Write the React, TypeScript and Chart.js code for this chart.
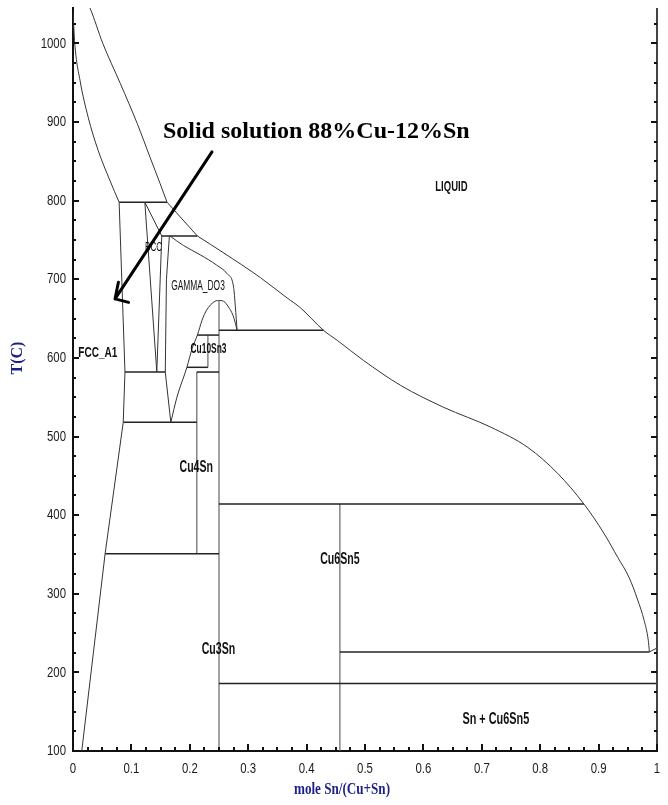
import React, { useEffect, useRef } from "react";
import { Chart, registerables } from "chart.js";

Chart.register(...registerables);

type P = [number, number];

// ---- axis ranges / ticks ----
const xRange: P = [0, 1];
const yRange: P = [100, 1045];
const xStep = 0.1;
const yStep = 100;
const xMinorStep = 0.025;
const yMinorStep = 25;

// ---- phase boundary curves (mole fraction Sn, T in C) ----
const liquidusCu: P[] = [[0, 1084], [0.029, 1045], [0.051, 1000], [0.081, 949], [0.110, 898], [0.132, 855], [0.149, 822], [0.161, 798]];
const liquidusBeta: P[] = [[0.161, 798], [0.213, 755]];
const liquidusMain: P[] = [[0.213, 755], [0.257, 734], [0.321, 702], [0.367, 676], [0.389, 664], [0.429, 635], [0.453, 622], [0.497, 597], [0.561, 565], [0.635, 537], [0.715, 512], [0.779, 486], [0.830, 453], [0.875, 414], [0.909, 377], [0.933, 346], [0.952, 321], [0.967, 292], [0.978, 266], [0.985, 241], [0.987, 226]];
const liquidusSn: P[] = [[0.987, 226], [1.0, 231]];
const fccSolidus: P[] = [[0, 1040], [0.003, 1000], [0.012, 953], [0.026, 906], [0.043, 864], [0.063, 826], [0.079, 798]];
const fccSolvus: P[] = [[0.079, 798], [0.089, 582], [0.086, 518], [0.055, 351], [0.015, 100]];
const bccLeft: P[] = [[0.123, 798], [0.1435, 582]];
const bccTop: P[] = [[0.123, 798], [0.152, 755]];
const bccRight: P[] = [[0.152, 755], [0.1435, 582]];
const gammaLeft: P[] = [[0.165, 755], [0.160, 700], [0.158, 582], [0.1675, 518]];
const gammaSolidus: P[] = [[0.166, 755], [0.189, 743], [0.218, 731], [0.246, 718], [0.264, 707], [0.275, 690], [0.278, 665], [0.281, 635]];
const gammaDome: P[] = [[0.1675, 518], [0.178, 550], [0.195, 588], [0.204, 612], [0.213, 629], [0.221, 648], [0.229, 661], [0.241, 671], [0.249, 673], [0.258, 672], [0.266, 665], [0.274, 654], [0.278, 644], [0.281, 635]];

// ---- invariant (horizontal) lines: [T, xFrom, xTo] ----
const isotherms: [number, number, number][] = [
  [798, 0.079, 0.161],
  [755, 0.152, 0.213],
  [635, 0.25, 0.429],
  [629, 0.213, 0.25],
  [588, 0.195, 0.231],
  [582, 0.089, 0.158],
  [582, 0.212, 0.25],
  [518, 0.086, 0.212],
  [414, 0.25, 0.875],
  [351, 0.055, 0.25],
  [226, 0.457, 0.987],
  [186, 0.25, 1.0],
];

// ---- compound (vertical) lines: [x, TFrom, TTo] ----
const compounds: [number, number, number][] = [
  [0.231, 588, 629],
  [0.212, 351, 582],
  [0.25, 100, 673],
  [0.457, 100, 414],
];

// ---- phase labels ----
const phaseNames = ["LIQUID", "FCC_A1", "BCC", "GAMMA_DO3", "Cu10Sn3", "Cu4Sn", "Cu6Sn5", "Cu3Sn", "Sn + Cu6Sn5"];
const phaseAt: P[] = [[0.648, 817], [0.0425, 607], [0.138, 741], [0.214, 692], [0.232, 611], [0.211, 460], [0.457, 343], [0.249, 229], [0.724, 140]];

// ---- annotation ----
const noteText = "Solid solution 88%Cu-12%Sn";
const noteAt: P = [0.154, 880];
const arrowFrom: P = [0.238, 862];
const arrowTo: P = [0.072, 675];

const xTitle = "mole Sn/(Cu+Sn)";
const yTitle = "T(C)";

const sans = "'Liberation Sans', Arial, 'DejaVu Sans', sans-serif";
const serif = "'Liberation Serif', 'Times New Roman', 'DejaVu Serif', serif";

function seg(points: P[], color: string, width: number, smooth: boolean) {
  return {
    data: points.map(([x, y]) => ({ x, y })),
    showLine: true,
    borderColor: color,
    borderWidth: width,
    pointRadius: 0,
    tension: smooth ? 0.4 : 0,
    cubicInterpolationMode: smooth ? "monotone" : "default",
    fill: false,
  };
}

function narrowText(ctx: any, text: string, x: number, y: number, font: string, sx: number, align: string) {
  ctx.save();
  ctx.font = font;
  ctx.translate(x, y);
  ctx.scale(sx, 1);
  ctx.textAlign = align;
  ctx.fillText(text, 0, 0);
  ctx.restore();
}

const labelStyle: Record<string, [string, number, number]> = {
  "LIQUID": ["bold", 14, 0.68],
  "FCC_A1": ["bold", 15, 0.67],
  "BCC": ["normal", 13, 0.62],
  "GAMMA_DO3": ["normal", 15, 0.56],
  "Cu10Sn3": ["bold", 15, 0.56],
  "Cu4Sn": ["bold", 16, 0.66],
  "Cu6Sn5": ["bold", 16, 0.66],
  "Cu3Sn": ["bold", 16, 0.66],
  "Sn + Cu6Sn5": ["bold", 16, 0.68],
};

const overlay = {
  id: "overlay",
  afterDatasetsDraw(chart: any) {
    const { ctx, chartArea: a, scales } = chart;
    const xs = scales.x;
    const ys = scales.y;
    const px = (v: number) => xs.getPixelForValue(v);
    const py = (v: number) => ys.getPixelForValue(v);
    ctx.save();

    // right border
    ctx.strokeStyle = "#444";
    ctx.lineWidth = 2;
    ctx.beginPath();
    ctx.moveTo(a.right, a.top);
    ctx.lineTo(a.right, a.bottom);
    ctx.stroke();

    // inward ticks
    ctx.strokeStyle = "#111";
    ctx.lineWidth = 2;
    for (let t = yRange[0]; t <= yRange[1] + 0.01; t += yMinorStep) {
      const y = Math.round(py(t));
      const major = Math.abs(t % yStep) < 0.01;
      const len = major ? 6 : 3;
      ctx.beginPath();
      ctx.moveTo(a.left, y);
      ctx.lineTo(a.left + len, y);
      ctx.moveTo(a.right, y);
      ctx.lineTo(a.right - len, y);
      ctx.stroke();
    }
    const nx = Math.round((xRange[1] - xRange[0]) / xMinorStep);
    for (let i = 0; i <= nx; i++) {
      const v = xRange[0] + i * xMinorStep;
      const x = Math.round(px(v));
      const major = i % 4 === 0;
      const len = major ? 7 : 4;
      ctx.beginPath();
      ctx.moveTo(x, a.bottom);
      ctx.lineTo(x, a.bottom - len);
      ctx.stroke();
    }

    // tick labels (from the scales' own ticks)
    ctx.fillStyle = "#1a1a1a";
    ctx.textBaseline = "middle";
    const tickFont = `normal 15px ${sans}`;
    xs.ticks.forEach((t: any) => {
      const label = String(Math.round(t.value * 10) / 10);
      narrowText(ctx, label, px(t.value), a.bottom + 18, tickFont, 0.76, "center");
    });
    ys.ticks.forEach((t: any) => {
      const label = String(Math.round(t.value));
      narrowText(ctx, label, a.left - 7, py(t.value), tickFont, 0.76, "right");
    });

    // phase labels
    ctx.fillStyle = "#111";
    phaseNames.forEach((name, i) => {
      const [w, size, sx] = labelStyle[name];
      narrowText(ctx, name, px(phaseAt[i][0]), py(phaseAt[i][1]), `${w} ${size}px ${sans}`, sx, "center");
    });

    // annotation text
    ctx.fillStyle = "#000";
    ctx.textAlign = "left";
    ctx.textBaseline = "alphabetic";
    ctx.font = `bold 24px ${serif}`;
    ctx.fillText(noteText, px(noteAt[0]), py(noteAt[1]));

    // arrow
    const x1 = px(arrowFrom[0]), y1 = py(arrowFrom[1]);
    const x2 = px(arrowTo[0]), y2 = py(arrowTo[1]);
    ctx.strokeStyle = "#000";
    ctx.lineWidth = 3;
    ctx.lineCap = "round";
    ctx.beginPath();
    ctx.moveTo(x1, y1);
    ctx.lineTo(x2, y2);
    const ang = Math.atan2(y1 - y2, x1 - x2);
    const w1 = ang + (71 * Math.PI) / 180;
    const w2 = ang - (22 * Math.PI) / 180;
    ctx.moveTo(x2, y2);
    ctx.lineTo(x2 + 14 * Math.cos(w1), y2 + 14 * Math.sin(w1));
    ctx.moveTo(x2, y2);
    ctx.lineTo(x2 + 17 * Math.cos(w2), y2 + 17 * Math.sin(w2));
    ctx.stroke();

    // axis titles
    ctx.fillStyle = "#1c1f86";
    ctx.textBaseline = "middle";
    narrowText(ctx, xTitle, 342, 790, `bold 16px ${serif}`, 0.82, "center");
    ctx.save();
    ctx.translate(18, 358);
    ctx.rotate(-Math.PI / 2);
    ctx.font = `bold 16px ${serif}`;
    ctx.textAlign = "center";
    ctx.fillText(yTitle, 0, 0);
    ctx.restore();

    ctx.restore();
  },
};

export default function App() {
  const ref = useRef<HTMLCanvasElement | null>(null);

  useEffect(() => {
    if (!ref.current) return;
    const curveColor = "#333";
    const lineColor = "#222";
    const vertColor = "#666";
    const datasets: any[] = [
      seg(liquidusCu, curveColor, 1, true),
      seg(liquidusBeta, curveColor, 1, false),
      seg(liquidusMain, curveColor, 1, true),
      seg(liquidusSn, curveColor, 1, false),
      seg(fccSolidus, curveColor, 1, true),
      seg(fccSolvus, curveColor, 1, false),
      seg(bccLeft, curveColor, 1, false),
      seg(bccTop, curveColor, 1, false),
      seg(bccRight, curveColor, 1, false),
      seg(gammaLeft, curveColor, 1, false),
      seg(gammaSolidus, curveColor, 1, true),
      seg(gammaDome, curveColor, 1, true),
      ...isotherms.map(([t, a, b]) => seg([[a, t], [b, t]], lineColor, 1.5, false)),
      ...compounds.map(([v, t1, t2]) => seg([[v, t1], [v, t2]], vertColor, 1.2, false)),
    ];

    const chart = new Chart(ref.current, {
      type: "scatter",
      data: { datasets },
      options: {
        animation: false,
        responsive: false,
        events: [],
        layout: { padding: { top: 8, right: 11, left: 0, bottom: 0 } },
        plugins: { legend: { display: false }, tooltip: { enabled: false } },
        scales: {
          x: {
            type: "linear",
            min: xRange[0],
            max: xRange[1],
            afterFit: (s: any) => {
              s.height = 54;
              s.paddingLeft = 0;
              s.paddingRight = 0;
            },
            grid: { display: false, drawTicks: false },
            border: { display: true, color: "#111", width: 2 },
            ticks: { stepSize: xStep, display: false, autoSkip: false, maxRotation: 0 },
          },
          y: {
            type: "linear",
            min: yRange[0],
            max: yRange[1],
            afterFit: (s: any) => {
              s.width = 73;
              s.paddingTop = 0;
              s.paddingBottom = 0;
            },
            grid: { display: false, drawTicks: false },
            border: { display: true, color: "#111", width: 2 },
            ticks: { stepSize: yStep, includeBounds: false, display: false },
          },
        },
      } as any,
      plugins: [overlay],
    });
    return () => chart.destroy();
  }, []);

  return (
    <div style={{ position: "absolute", left: 0, top: 0, width: 668, height: 805, background: "#fff" }}>
      <canvas ref={ref} width={668} height={805} style={{ display: "block" }} />
    </div>
  );
}
